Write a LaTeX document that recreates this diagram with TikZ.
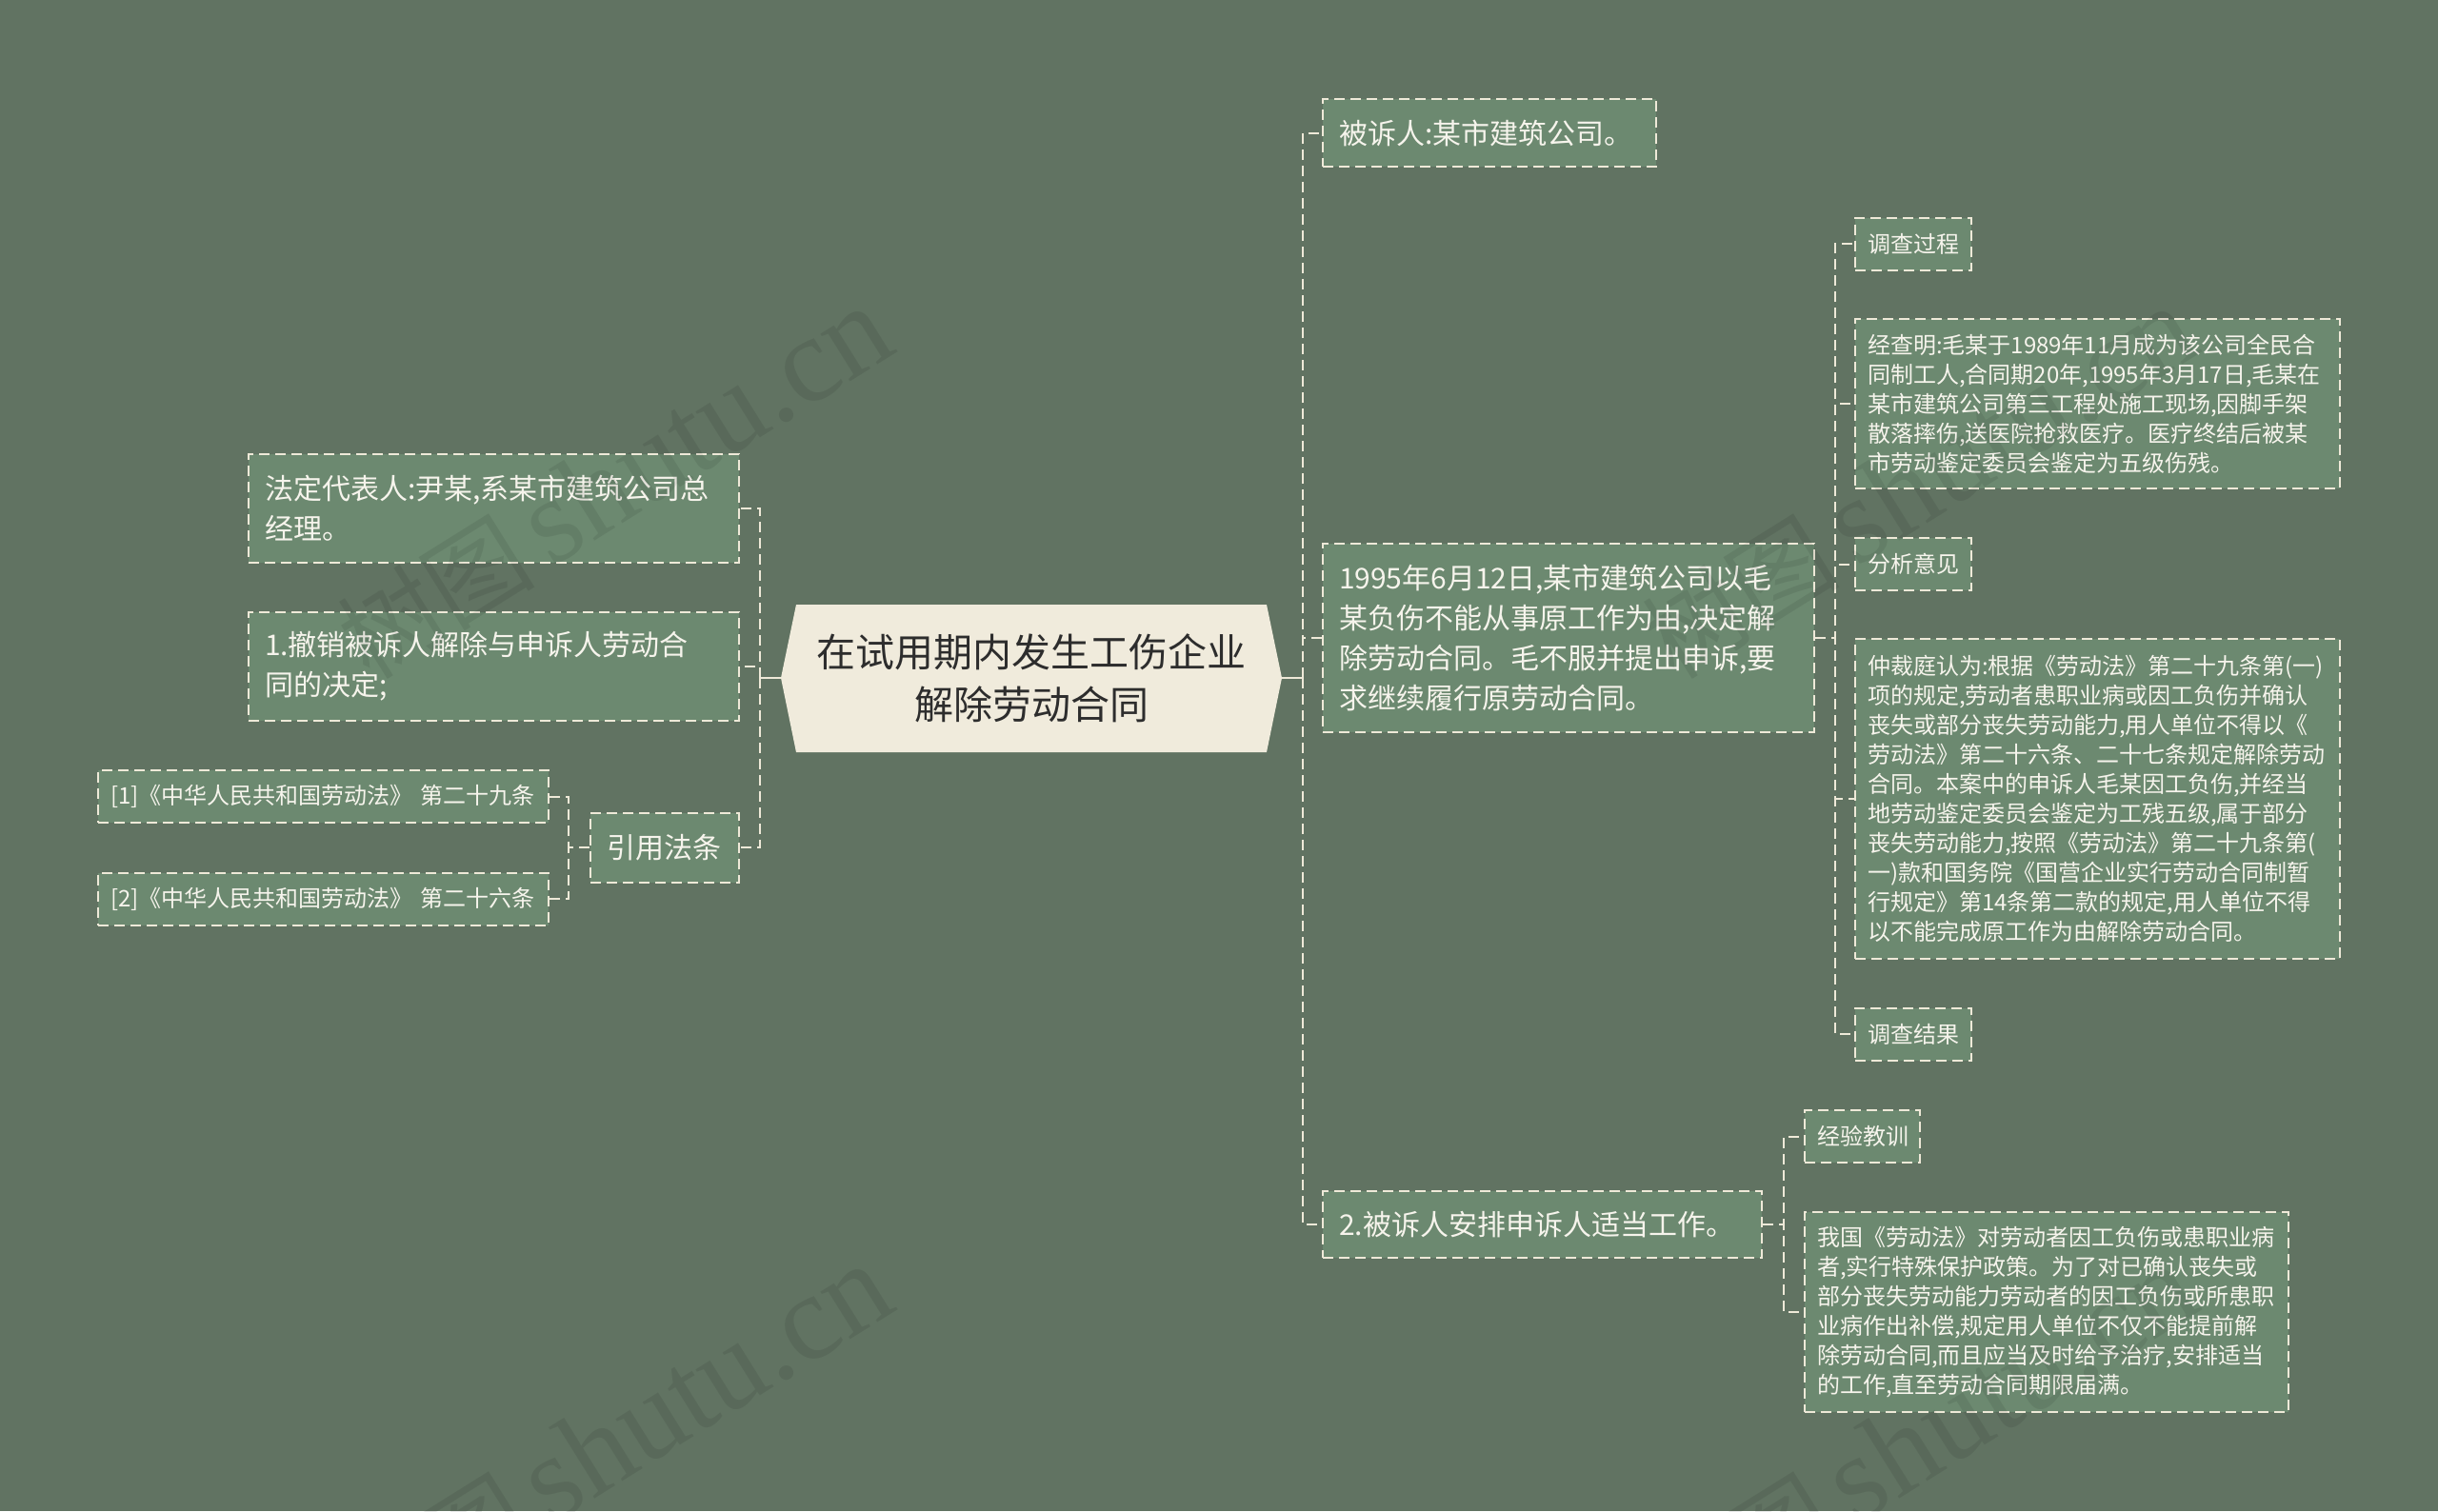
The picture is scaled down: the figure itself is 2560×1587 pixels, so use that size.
\documentclass[tikz,border=0pt]{standalone}
\usepackage{fontspec}
\setmainfont{Noto Sans CJK SC}
\newfontfamily\wmserif{Liberation Serif}
\definecolor{bgc}{RGB}{97,115,98}
\definecolor{nodec}{RGB}{108,137,112}
\definecolor{rootc}{RGB}{240,235,220}
\definecolor{linec}{RGB}{238,233,216}
\definecolor{txtc}{RGB}{246,244,236}
\definecolor{roottxt}{RGB}{45,45,45}
\begin{document}
\begin{tikzpicture}[x=0.5pt,y=-0.5pt,
  conn/.style={draw=linec, line width=1pt, dash pattern=on 5.5pt off 3pt},
  solidconn/.style={draw=linec, line width=1.2pt},
  bigbox/.style={draw=linec, line width=1pt, dash pattern=on 5.5pt off 3pt, fill=nodec,
    text=txtc, align=left, inner xsep=8.5pt, inner ysep=4pt,
    font=\fontsize{15pt}{21pt}\selectfont},
  smallbox/.style={draw=linec, line width=1pt, dash pattern=on 5.5pt off 3pt, fill=nodec,
    text=txtc, align=left, inner xsep=6.5pt, inner ysep=3pt,
    font=\fontsize{12pt}{15.5pt}\selectfont},
  wmark/.style={text=black, opacity=0.08, inner sep=0pt}
]
\useasboundingbox (0,0) rectangle (2560,1587);
\fill[bgc] (0,0) rectangle (2560,1587);

% central topic
\fill[rootc] (820,712) -- (836,635) -- (1330,635) -- (1346,712) -- (1330,790) -- (836,790) -- cycle;
\node[text=roottxt, align=center, font=\fontsize{20.5pt}{27.5pt}\selectfont] (root) at (1083,712)
  {在试用期内发生工伤企业\\解除劳动合同};
\coordinate (rootL) at (820,712);
\coordinate (rootR) at (1346,712);
\coordinate (jL) at (798,712);
\coordinate (jR) at (1368,712);

% right side, level 1
\node[bigbox, minimum width=175pt, minimum height=35.5pt, text width=158pt] (A) at (1564,139.5)
  {被诉人:某市建筑公司。};
\node[bigbox, minimum width=258pt, minimum height=99pt, text width=241pt] (B) at (1647,670)
  {1995年6月12日,某市建筑公司以毛\\某负伤不能从事原工作为由,决定解\\除劳动合同。毛不服并提出申诉,要\\求继续履行原劳动合同。};
\node[bigbox, minimum width=230.5pt, minimum height=35pt, text width=213.5pt] (C) at (1619.5,1286)
  {2.被诉人安排申诉人适当工作。};

% left side, level 1
\node[bigbox, minimum width=257.5pt, minimum height=57pt, text width=240.5pt] (D) at (518.5,534)
  {法定代表人:尹某,系某市建筑公司总\\经理。};
\node[bigbox, minimum width=257.5pt, minimum height=57pt, text width=240.5pt] (E) at (518.5,700)
  {1.撤销被诉人解除与申诉人劳动合\\同的决定;};
\node[bigbox, minimum width=78pt, minimum height=36.5pt, text width=61pt] (F) at (698,890)
  {引用法条};

% level 2
\node[smallbox, minimum width=236.5pt, minimum height=27.5pt, text width=223.5pt] (G) at (339.5,836.5)
  {[1]《中华人民共和国劳动法》~第二十九条};
\node[smallbox, minimum width=236.5pt, minimum height=27.5pt, text width=223.5pt] (H) at (339.5,944)
  {[2]《中华人民共和国劳动法》~第二十六条};

\node[smallbox, minimum width=61pt, minimum height=27.5pt, text width=48pt] (I) at (2009,256)
  {调查过程};
\node[smallbox, minimum width=254.5pt, minimum height=89pt, text width=241.5pt] (J) at (2202.5,424)
  {经查明:毛某于1989年11月成为该公司全民合\\同制工人,合同期20年,1995年3月17日,毛某在\\某市建筑公司第三工程处施工现场,因脚手架\\散落摔伤,送医院抢救医疗。医疗终结后被某\\市劳动鉴定委员会鉴定为五级伤残。};
\node[smallbox, minimum width=61pt, minimum height=27.5pt, text width=48pt] (K) at (2009,592.5)
  {分析意见};
\node[smallbox, minimum width=254.5pt, minimum height=168pt, text width=241.5pt] (L) at (2202.5,839)
  {仲裁庭认为:根据《劳动法》第二十九条第(一)\\项的规定,劳动者患职业病或因工负伤并确认\\丧失或部分丧失劳动能力,用人单位不得以《\\劳动法》第二十六条、二十七条规定解除劳动\\合同。本案中的申诉人毛某因工负伤,并经当\\地劳动鉴定委员会鉴定为工残五级,属于部分\\丧失劳动能力,按照《劳动法》第二十九条第(\\一)款和国务院《国营企业实行劳动合同制暂\\行规定》第14条第二款的规定,用人单位不得\\以不能完成原工作为由解除劳动合同。};
\node[smallbox, minimum width=61pt, minimum height=27.5pt, text width=48pt] (M) at (2009,1086)
  {调查结果};

\node[smallbox, minimum width=60.5pt, minimum height=27.5pt, text width=47.5pt] (N) at (1955.5,1193.5)
  {经验教训};
\node[smallbox, minimum width=254pt, minimum height=105pt, text width=241pt] (O) at (2149,1378)
  {我国《劳动法》对劳动者因工负伤或患职业病\\者,实行特殊保护政策。为了对已确认丧失或\\部分丧失劳动能力劳动者的因工负伤或所患职\\业病作出补偿,规定用人单位不仅不能提前解\\除劳动合同,而且应当及时给予治疗,安排适当\\的工作,直至劳动合同期限届满。};

\coordinate (jB) at (1927,670);
\coordinate (jC) at (1873,1286);
\coordinate (jF) at (597,890);

% connectors
\draw[solidconn] (rootR) -- (jR);
\draw[solidconn] (rootL) -- (jL);
\draw[conn] (jR) |- (A.west);
\draw[conn] (jR) |- (B.west);
\draw[conn] (jR) |- (C.west);
\draw[conn] (jL) |- (D.east);
\draw[conn] (jL) |- (E.east);
\draw[conn] (jL) |- (F.east);
\draw[conn] (F.west) -- (jF) |- (G.east);
\draw[conn] (F.west) -- (jF) |- (H.east);
\draw[conn] (B.east) -- (jB) |- (I.west);
\draw[conn] (B.east) -- (jB) |- (J.west);
\draw[conn] (B.east) -- (jB) |- (K.west);
\draw[conn] (B.east) -- (jB) |- (L.west);
\draw[conn] (B.east) -- (jB) |- (M.west);
\draw[conn] (C.east) -- (jC) |- (N.west);
\draw[conn] (C.east) -- (jC) |- (O.west);

% watermarks
\foreach \wx/\wy [count=\k] in {945/368, 945/1374, 2315/368, 2315/1374}{
  \node[wmark, anchor=base east, rotate=32] (wm\k) at (\wx,\wy)
    {\fontsize{52pt}{52pt}\selectfont 树图\,\wmserif\fontsize{64pt}{64pt}\selectfont shutu.cn};
}
\end{tikzpicture}
\end{document}
